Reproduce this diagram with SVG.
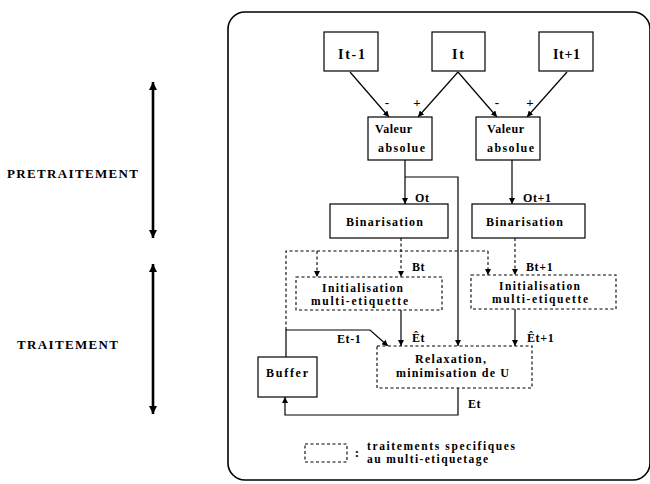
<svg xmlns="http://www.w3.org/2000/svg" width="650" height="484" viewBox="0 0 650 484">
  <style>
    text { font-family: "Liberation Serif", "Times New Roman", serif; font-weight: bold; fill: #000; }
    .lbl { font-size: 12px; letter-spacing: 0.6px; }
    .sign { font-size: 13px; }
    .big { font-size: 14px; }
    .node { font-size: 12px; }
    .small { font-size: 11.5px; }
    .side { font-size: 13px; }
    .box { fill: #fff; stroke: #000; stroke-width: 1.2; }
    .dbox { fill: #fff; stroke: #000; stroke-width: 1.1; stroke-dasharray: 3 2.5; }
    .wire { fill: none; stroke: #000; stroke-width: 1.2; }
    .dwire { fill: none; stroke: #000; stroke-width: 1.1; stroke-dasharray: 3 2.5; }
    .arr { marker-end: url(#head); }
  </style>
  <defs>
    <marker id="head" viewBox="0 0 10 10" refX="10" refY="5" markerWidth="6" markerHeight="6" markerUnits="userSpaceOnUse" orient="auto">
      <path d="M0,0 L10,5 L0,10 z" fill="#000"/>
    </marker>
    <marker id="bighead" viewBox="0 0 10 10" refX="10" refY="5" markerWidth="9" markerHeight="8" markerUnits="userSpaceOnUse" orient="auto-start-reverse">
      <path d="M0,0 L10,5 L0,10 z" fill="#000"/>
    </marker>
  </defs>

  <rect width="650" height="484" fill="#fff"/>

  <!-- outer frame -->
  <rect x="228" y="12" width="422" height="468" rx="17" ry="17" fill="none" stroke="#000" stroke-width="1.6"/>

  <!-- phase markers -->
  <g id="phase-pretraitement">
    <line x1="153" y1="82" x2="153" y2="238" stroke="#000" stroke-width="2.6" marker-start="url(#bighead)" marker-end="url(#bighead)"/>
    <text class="side" x="7" y="178" textLength="131" lengthAdjust="spacing">PRETRAITEMENT</text>
  </g>
  <g id="phase-traitement">
    <line x1="153" y1="264" x2="153" y2="414" stroke="#000" stroke-width="2.6" marker-start="url(#bighead)" marker-end="url(#bighead)"/>
    <text class="side" x="17" y="349" textLength="101" lengthAdjust="spacing">TRAITEMENT</text>
  </g>

  <!-- connectors -->
  <g id="connectors">
    <line class="wire arr" x1="350" y1="72" x2="389" y2="117"/>
    <line class="wire arr" x1="458" y1="72" x2="418" y2="117"/>
    <line class="wire arr" x1="458" y1="72" x2="497" y2="117"/>
    <line class="wire arr" x1="567" y1="72" x2="527" y2="117"/>

    <line class="wire arr" x1="405" y1="160" x2="405" y2="204"/>
    <polyline class="wire arr" points="405,177 458,177 458,346"/>
    <line class="wire arr" x1="512" y1="160" x2="512" y2="204"/>

    <line class="dwire arr" x1="401" y1="238" x2="401" y2="277"/>
    <line class="dwire arr" x1="515" y1="238" x2="515" y2="275"/>
    <polyline class="dwire" points="286,330 286,251 488,251"/>
    <line class="dwire arr" x1="317" y1="251" x2="317" y2="277"/>
    <line class="dwire arr" x1="488" y1="251" x2="488" y2="275"/>

    <line class="wire arr" x1="401" y1="310" x2="401" y2="346"/>
    <line class="wire arr" x1="515" y1="309" x2="515" y2="346"/>
    <polyline class="wire arr" points="286,357 286,330 370,330 388,346"/>
    <polyline class="wire arr" points="458,388 458,415 285,415 285,397"/>
  </g>

  <!-- connector labels -->
  <g id="labels">
    <text class="sign" x="387" y="107" text-anchor="middle">-</text>
    <text class="sign" x="417" y="107" text-anchor="middle">+</text>
    <text class="sign" x="497" y="107" text-anchor="middle">-</text>
    <text class="sign" x="530" y="107" text-anchor="middle">+</text>
    <text class="lbl" x="415" y="202">Ot</text>
    <text class="lbl" x="523" y="202">Ot+1</text>
    <text class="lbl" x="412" y="271">Bt</text>
    <text class="lbl" x="526" y="271">Bt+1</text>
    <text class="lbl" x="337" y="343">Et-1</text>
    <text class="lbl" x="412" y="342">Êt</text>
    <text class="lbl" x="527" y="342">Êt+1</text>
    <text class="lbl" x="468" y="408">Et</text>
  </g>

  <!-- nodes -->
  <g id="node-it-1">
    <rect class="box" x="324" y="32" width="54" height="39"/>
    <text class="big" x="338" y="59" textLength="27" lengthAdjust="spacing">It-1</text>
  </g>
  <g id="node-it">
    <rect class="box" x="432" y="32" width="53" height="39"/>
    <text class="big" x="452" y="59" textLength="12" lengthAdjust="spacing">It</text>
  </g>
  <g id="node-it+1">
    <rect class="box" x="539" y="32" width="54" height="39"/>
    <text class="big" x="553" y="59" textLength="27" lengthAdjust="spacing">It+1</text>
  </g>

  <g id="node-valeur-1">
    <rect class="box" x="368" y="117" width="64" height="43"/>
    <text class="node" x="375" y="133" textLength="37" lengthAdjust="spacing">Valeur</text>
    <text class="node" x="378" y="152" textLength="47" lengthAdjust="spacing">absolue</text>
  </g>
  <g id="node-valeur-2">
    <rect class="box" x="476" y="117" width="64" height="43"/>
    <text class="node" x="487" y="133" textLength="37" lengthAdjust="spacing">Valeur</text>
    <text class="node" x="487" y="152" textLength="47" lengthAdjust="spacing">absolue</text>
  </g>

  <g id="node-binarisation-1">
    <rect class="box" x="330" y="204" width="118" height="34"/>
    <text class="node" x="346" y="226" textLength="77" lengthAdjust="spacing">Binarisation</text>
  </g>
  <g id="node-binarisation-2">
    <rect class="box" x="472" y="204" width="113" height="34"/>
    <text class="node" x="486" y="226" textLength="77" lengthAdjust="spacing">Binarisation</text>
  </g>

  <g id="node-init-1">
    <rect class="dbox" x="296" y="277" width="146" height="33"/>
    <text class="small" x="322" y="291.5" textLength="81" lengthAdjust="spacing">Initialisation</text>
    <text class="small" x="311" y="305" textLength="97" lengthAdjust="spacing">multi-etiquette</text>
  </g>
  <g id="node-init-2">
    <rect class="dbox" x="471" y="275" width="145" height="34"/>
    <text class="small" x="499" y="289.5" textLength="81" lengthAdjust="spacing">Initialisation</text>
    <text class="small" x="492" y="303" textLength="96" lengthAdjust="spacing">multi-etiquette</text>
  </g>

  <g id="node-relaxation">
    <rect class="dbox" x="377" y="346" width="155" height="42"/>
    <text class="node" x="415" y="363" textLength="71" lengthAdjust="spacing">Relaxation,</text>
    <text class="node" x="396" y="377" textLength="113" lengthAdjust="spacing">minimisation de U</text>
  </g>

  <g id="node-buffer">
    <rect class="box" x="258" y="357" width="59" height="40"/>
    <text class="node" x="266" y="377" textLength="42" lengthAdjust="spacing">Buffer</text>
  </g>

  <!-- legend -->
  <g id="legend">
    <rect class="dbox" x="305" y="444" width="42" height="18"/>
    <text class="sign" x="357" y="457" text-anchor="middle">:</text>
    <text class="small" x="367" y="450" textLength="148" lengthAdjust="spacing">traitements specifiques</text>
    <text class="small" x="367" y="463" textLength="121" lengthAdjust="spacing">au multi-etiquetage</text>
  </g>
</svg>
